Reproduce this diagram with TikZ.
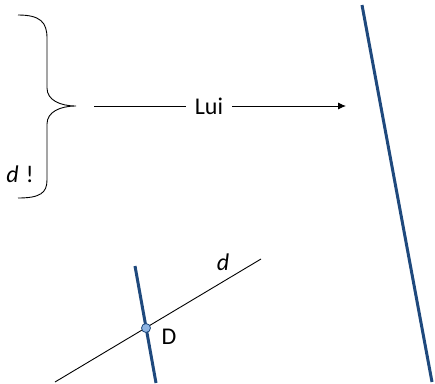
\documentclass[tikz,border=0pt]{standalone}
\usepackage{fontspec}
\setmainfont{Carlito}
\definecolor{LineBlue}{RGB}{31,73,125}
\definecolor{PointBlue}{RGB}{142,180,227}
\usetikzlibrary{arrows.meta}

\begin{document}
\begin{tikzpicture}[x=1pt,y=-1pt,>={Latex[length=8pt,width=7pt]},
      thin line/.style={draw=black,line width=0.9pt},
      thick line/.style={draw=LineBlue,line width=3pt},
      lbl/.style={font=\fontsize{24}{26}\selectfont,inner sep=1pt}]
    \useasboundingbox (0,0) rectangle (435,383);
    % brace on the left
    \coordinate (btip) at (76,106);
    \draw[thin line] (18,15) .. controls (40,15) and (47,22) .. (47,38) -- (47,88)
      .. controls (47,100) and (60,106) .. (btip)
      .. controls (60,106) and (47,112) .. (47,124) -- (47,180)
      .. controls (47,193) and (40,198) .. (18,198);
    \node[lbl] (dexcl) at (20,174) {\textit{d}\hspace{7pt}!};
    % arrow with its label
    \coordinate (a0) at (94,106);
    \coordinate (a1) at (346,106);
    \node[lbl,inner sep=9pt] (lui) at (209,106) {Lui};
    \draw[thin line] (a0) -- (lui);
    \draw[thin line,->] (lui) -- (a1);
    % long blue line
    \coordinate (b0) at (362,5);
    \coordinate (b1) at (432,382);
    \draw[thick line] (b0) -- (b1);
    % small figure
    \coordinate (d0) at (55,382);
    \coordinate (d1) at (261,259);
    \draw[thin line] (d0) -- (d1);
    \coordinate (s0) at (135,266);
    \coordinate (s1) at (156,383);
    \draw[thick line] (s0) -- (s1);
    \node[circle,draw=LineBlue,fill=PointBlue,line width=0.8pt,minimum size=9pt,inner sep=0pt] (pD) at (146,328) {};
    \node[lbl] (labD) at (169,337) {D};
    \node[lbl] (labd) at (223,262) {\textit{d}};
  \end{tikzpicture}
\end{document}
